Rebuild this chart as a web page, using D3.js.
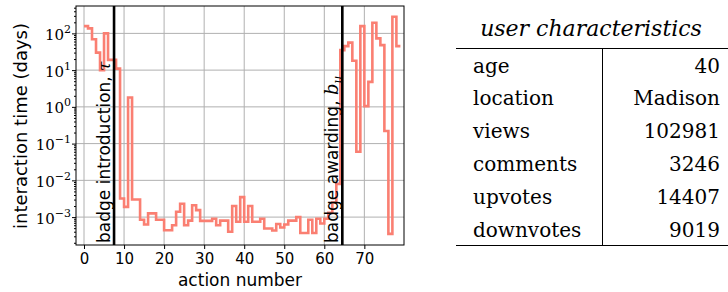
<!DOCTYPE html>
<html>
<head>
<meta charset="utf-8">
<script src="https://cdn.jsdelivr.net/npm/d3@7"></script>
<style>
  body { margin: 0; background: #fff; }
  svg { display: block; }
  .serif { font-family: "DejaVu Serif", "Liberation Serif", serif; }
  .sans { font-family: "DejaVu Sans", sans-serif; }
</style>
</head>
<body>
<div id="chart"></div>
<script>
var width = 728, height = 292;

// interaction time (days) for each action number 0..79 (step plot)
var times = [158, 137, 69, 30, 10, 100, 19, 19, 11, 3.2e-3,
  1.9e-3, 1.8, 3e-3, 3e-3, 8.5e-4, 6.3e-4, 1.26e-3, 1.26e-3, 8.5e-4, 8.5e-4,
  4.4e-4, 4.4e-4, 6e-4, 1.4e-3, 2.3e-3, 6e-4, 8e-4, 2.1e-3, 1.55e-3, 7.9e-4,
  7.9e-4, 7.9e-4, 9e-4, 6e-4, 8e-4, 8e-4, 4e-4, 2e-3, 7.5e-4, 3.5e-3,
  7.5e-4, 2e-3, 7.5e-4, 7.5e-4, 9e-4, 4.9e-4, 4.9e-4, 4.3e-4, 6.5e-4, 5.2e-4,
  6.3e-4, 8e-4, 8e-4, 1e-3, 3.7e-4, 3.7e-4, 8.5e-4, 3.7e-4, 9e-4, 6.7e-4,
  9e-4, 1.3e-3, 2.5e-3, 8e-3, 35, 45, 56, 18, 0.06, 158,
  1.05, 4.8, 195, 73, 48, 0.22, 3.5e-4, 284, 45, 45];

var badgeIntro = 7.5, badgeAward = 64.5;
var xTicks = [0, 10, 20, 30, 40, 50, 60, 70];
var yTicks = [1e-3, 1e-2, 1e-1, 1e0, 1e1, 1e2];

var tableTitle = "user characteristics";
var rowLabels = ["age", "location", "views", "comments", "upvotes", "downvotes"];
var rowValues = ["40", "Madison", "102981", "3246", "14407", "9019"];

var svg = d3.select("#chart").append("svg")
    .attr("width", width)
    .attr("height", height);

var x = d3.scaleLinear().domain([-2, 79.9]).range([76, 404]);
var y = d3.scaleLog().domain([1.74e-4, 556]).range([245, 6]);

// grid
svg.append("g").selectAll("line")
    .data(xTicks)
  .enter().append("line")
    .attr("x1", function(d) { return x(d); })
    .attr("x2", function(d) { return x(d); })
    .attr("y1", 6).attr("y2", 245)
    .style("stroke", "#b0b0b0").style("stroke-width", 1);
svg.append("g").selectAll("line")
    .data(yTicks)
  .enter().append("line")
    .attr("x1", 76).attr("x2", 404)
    .attr("y1", function(d) { return y(d); })
    .attr("y2", function(d) { return y(d); })
    .style("stroke", "#b0b0b0").style("stroke-width", 1);

// step line
var line = d3.line()
    .x(function(d, i) { return x(i); })
    .y(function(d) { return y(d); })
    .curve(d3.curveStepAfter);

svg.append("path")
    .datum(times)
    .attr("d", line)
    .style("fill", "none")
    .style("stroke", "#fa7f72")
    .style("stroke-width", 2.6)
    .style("stroke-linejoin", "miter");

// badge lines
[badgeIntro, badgeAward].forEach(function(b) {
  svg.append("line")
      .attr("x1", x(b)).attr("x2", x(b))
      .attr("y1", 6).attr("y2", 245)
      .style("stroke", "#000").style("stroke-width", 2.6);
});

var t1 = svg.append("text")
    .attr("class", "sans")
    .attr("transform", "translate(" + (x(badgeIntro) - 4) + ",243) rotate(-90)")
    .style("font-size", "17px");
t1.append("tspan").text("badge introduction, ");
t1.append("tspan").attr("class", "serif").text("τ").style("font-style", "italic");

var t2 = svg.append("text")
    .attr("class", "sans")
    .attr("transform", "translate(" + (x(badgeAward) - 4) + ",243) rotate(-90)")
    .style("font-size", "17px");
t2.append("tspan").text("badge awarding, ");
t2.append("tspan").attr("class", "serif").text("b").style("font-style", "italic").style("font-size", "18px");
t2.append("tspan").attr("class", "serif").text("u").attr("dy", 4).style("font-size", "12px").style("font-style", "italic");

// axes
var xAxis = svg.append("g")
    .attr("transform", "translate(0,245)")
    .call(d3.axisBottom(x).tickValues(xTicks).tickSize(4).tickPadding(4).tickFormat(d3.format("d")));
xAxis.select(".domain").remove();
xAxis.selectAll("text").attr("class", "sans").style("font-size", "15px").style("fill", "#000");

var minor = [];
for (var e = -4; e <= 2; e++) {
  for (var m = 2; m <= 9; m++) {
    var v = m * Math.pow(10, e);
    if (v > 1.74e-4 && v < 556) minor.push(v);
  }
}
var yMinor = svg.append("g")
    .attr("transform", "translate(76,0)")
    .call(d3.axisLeft(y).tickValues(minor).tickSize(2).tickFormat(""));
yMinor.select(".domain").remove();

var yAxis = svg.append("g")
    .attr("transform", "translate(76,0)")
    .call(d3.axisLeft(y).tickValues(yTicks).tickSize(4).tickFormat(""));
yAxis.select(".domain").remove();
yAxis.selectAll(".tick").each(function(d) {
  var t = d3.select(this).append("text")
      .attr("class", "serif")
      .attr("x", -5).attr("dy", "0.4em")
      .style("text-anchor", "end")
      .style("font-size", "15px").style("fill", "#000");
  t.append("tspan").text("10");
  t.append("tspan").text(d3.format("d")(Math.round(Math.log10(d))).replace("-", "−"))
      .attr("dy", -7).style("font-size", "11px");
});

// frame
svg.append("rect")
    .attr("x", 76).attr("y", 6).attr("width", 328).attr("height", 239)
    .style("fill", "none").style("stroke", "#000").style("stroke-width", 1);

svg.append("text")
    .attr("class", "sans")
    .attr("x", 240).attr("y", 286)
    .style("text-anchor", "middle")
    .style("font-size", "17px")
    .text("action number");
svg.append("text")
    .attr("class", "sans")
    .attr("transform", "translate(27,126) rotate(-90)")
    .style("text-anchor", "middle")
    .style("font-size", "18px")
    .text("interaction time (days)");

// table
var tbl = svg.append("g");
tbl.append("text")
    .attr("class", "serif")
    .attr("x", 591).attr("y", 36)
    .style("text-anchor", "middle")
    .style("font-style", "italic").style("font-size", "22px")
    .text(tableTitle);
tbl.append("line").attr("x1", 456).attr("x2", 728).attr("y1", 48.5).attr("y2", 48.5)
    .style("stroke", "#000").style("stroke-width", 1.2);
tbl.append("line").attr("x1", 456).attr("x2", 728).attr("y1", 245.5).attr("y2", 245.5)
    .style("stroke", "#000").style("stroke-width", 1.2);
tbl.append("line").attr("x1", 602.5).attr("x2", 602.5).attr("y1", 48.5).attr("y2", 245.5)
    .style("stroke", "#000").style("stroke-width", 1);

var rowY = d3.scaleBand().domain(rowLabels).range([48.5, 245.5]);
tbl.selectAll(".lab")
    .data(rowLabels)
  .enter().append("text")
    .attr("class", "lab serif")
    .attr("x", 473)
    .attr("y", function(d) { return rowY(d) + 24; })
    .style("font-size", "20px")
    .text(function(d) { return d; });
tbl.selectAll(".val")
    .data(rowValues)
  .enter().append("text")
    .attr("class", "val serif")
    .attr("x", 720)
    .attr("y", function(d, i) { return rowY(rowLabels[i]) + 24; })
    .style("text-anchor", "end")
    .style("font-size", "20px")
    .text(function(d) { return d; });
</script>
</body>
</html>
